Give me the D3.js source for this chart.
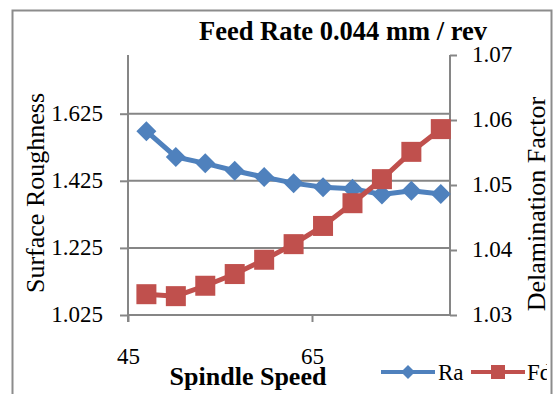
<!DOCTYPE html>
<html>
<head>
<meta charset="utf-8">
<script src="https://cdn.jsdelivr.net/npm/d3@7"></script>
<style>
  body { margin: 0; background: #fff; }
  svg { font-family: "Liberation Serif", "Times New Roman", serif; }
</style>
</head>
<body>
<div id="chart"></div>
<script>
// spindle speed values (x) and the two series
var speed = [47, 50.2, 53.4, 56.6, 59.8, 63, 66.2, 69.4, 72.6, 75.8, 79];
var ra = [1.573, 1.496, 1.477, 1.455, 1.436, 1.418, 1.406, 1.401, 1.384, 1.395, 1.386];
var fd = [1.0332, 1.0329, 1.0345, 1.0363, 1.0385, 1.0409, 1.0437, 1.0472, 1.0509, 1.0551, 1.0586];
var xTicks = [45, 65];
var leftTicks = [1.025, 1.225, 1.425, 1.625];
var rightTicks = [1.03, 1.04, 1.05, 1.06, 1.07];

var W = 553, H = 394;
var plot = { left: 128, right: 450, top: 55, bottom: 315 };
var blue = "#4F81BD", red = "#C0504D", grey = "#868686";

var svg = d3.select("#chart").append("svg")
    .attr("width", W)
    .attr("height", H);

// Rahmen des Diagramms
svg.append("rect")
    .attr("x", 12.5).attr("y", 10.5)
    .attr("width", 539).attr("height", 400)
    .attr("fill", "none")
    .attr("stroke", "#8c8c8c")
    .attr("stroke-width", 2);

var x = d3.scaleLinear().domain([45, 80]).range([plot.left, plot.right]);
var yL = d3.scaleLinear().domain([1.025, 1.8]).range([plot.bottom, plot.top]);
var yR = d3.scaleLinear().domain([1.03, 1.07]).range([plot.bottom, plot.top]);

// gridlines
svg.append("g").selectAll("line")
    .data(leftTicks.slice(1))
    .enter().append("line")
    .attr("x1", plot.left).attr("x2", plot.right)
    .attr("y1", function(d) { return yL(d); })
    .attr("y2", function(d) { return yL(d); })
    .attr("stroke", grey).attr("stroke-width", 2);

// left axis
var gL = svg.append("g")
    .attr("transform", "translate(" + plot.left + ",0)")
    .call(d3.axisLeft(yL).tickValues(leftTicks).tickSize(8).tickPadding(17)
        .tickFormat(d3.format(".3f")));
gL.select(".domain").remove();
gL.selectAll(".tick line").attr("stroke", grey).attr("stroke-width", 2);
gL.selectAll(".tick text").attr("font-size", 23).attr("fill", "#000")
    .attr("font-family", "Liberation Serif").attr("dy", "0.3em");
svg.append("line")
    .attr("x1", plot.left).attr("x2", plot.left)
    .attr("y1", plot.top).attr("y2", plot.bottom + 7)
    .attr("stroke", grey).attr("stroke-width", 2);

// right axis
var gR = svg.append("g")
    .attr("transform", "translate(" + plot.right + ",0)")
    .call(d3.axisRight(yR).tickValues(rightTicks).tickSize(7).tickPadding(15)
        .tickFormat(d3.format(".2f")));
gR.select(".domain").remove();
gR.selectAll(".tick line").attr("stroke", grey).attr("stroke-width", 2);
gR.selectAll(".tick text").attr("font-size", 23).attr("fill", "#000")
    .attr("font-family", "Liberation Serif").attr("dy", "0.3em");
svg.append("line")
    .attr("x1", plot.right).attr("x2", plot.right)
    .attr("y1", plot.top).attr("y2", plot.bottom)
    .attr("stroke", grey).attr("stroke-width", 2);

// x axis
var gX = svg.append("g")
    .attr("transform", "translate(0," + plot.bottom + ")")
    .call(d3.axisBottom(x).tickValues(xTicks).tickSize(7).tickPadding(26)
        .tickFormat(d3.format("d")));
gX.select(".domain").remove();
gX.selectAll(".tick line").attr("stroke", grey).attr("stroke-width", 2);
gX.selectAll(".tick text").attr("font-size", 23).attr("fill", "#000")
    .attr("font-family", "Liberation Serif");
svg.append("line")
    .attr("x1", plot.left).attr("x2", plot.right)
    .attr("y1", plot.bottom).attr("y2", plot.bottom)
    .attr("stroke", grey).attr("stroke-width", 2);

// series lines
var lineRa = d3.line()
    .x(function(d, i) { return x(speed[i]); })
    .y(function(d) { return yL(d); });
var lineFd = d3.line()
    .x(function(d, i) { return x(speed[i]); })
    .y(function(d) { return yR(d); });

svg.append("path").datum(ra)
    .attr("d", lineRa)
    .attr("fill", "none").attr("stroke", blue).attr("stroke-width", 5);
svg.selectAll(".ra")
    .data(ra)
    .enter().append("path")
    .attr("class", "ra")
    .attr("d", "M0,-10L10,0L0,10L-10,0Z")
    .attr("transform", function(d, i) { return "translate(" + x(speed[i]) + "," + yL(d) + ")"; })
    .attr("fill", blue);

svg.append("path").datum(fd)
    .attr("d", lineFd)
    .attr("fill", "none").attr("stroke", red).attr("stroke-width", 5);
svg.selectAll(".fd")
    .data(fd)
    .enter().append("rect")
    .attr("class", "fd")
    .attr("x", function(d, i) { return x(speed[i]) - 10; })
    .attr("y", function(d) { return yR(d) - 10; })
    .attr("width", 20).attr("height", 20)
    .attr("fill", red);

// titles
svg.append("text")
    .attr("x", 343).attr("y", 40)
    .attr("text-anchor", "middle")
    .attr("font-size", 26.5).attr("font-weight", "bold")
    .text("Feed Rate 0.044 mm / rev");

svg.append("text")
    .attr("x", 248).attr("y", 385)
    .attr("text-anchor", "middle")
    .attr("font-size", 26).attr("font-weight", "bold")
    .text("Spindle Speed");

svg.append("text")
    .attr("transform", "translate(44,193) rotate(-90)")
    .attr("text-anchor", "middle")
    .attr("font-size", 26)
    .text("Surface Roughness");

svg.append("text")
    .attr("transform", "translate(545,204) rotate(-90)")
    .attr("text-anchor", "middle")
    .attr("font-size", 26)
    .text("Delamination Factor");

// legend, clipped at the chart border
svg.append("clipPath").attr("id", "legclip")
    .append("rect").attr("x", 0).attr("y", 0).attr("width", 547).attr("height", H);
var leg = svg.append("g").attr("clip-path", "url(#legclip)");
leg.append("line")
    .attr("x1", 381).attr("x2", 435).attr("y1", 372).attr("y2", 372)
    .attr("stroke", blue).attr("stroke-width", 4);
leg.append("path")
    .attr("d", "M0,-7L7,0L0,7L-7,0Z")
    .attr("transform", "translate(408,372)")
    .attr("fill", blue);
leg.append("text")
    .attr("x", 438).attr("y", 380)
    .attr("font-size", 23)
    .text("Ra");
leg.append("line")
    .attr("x1", 471).attr("x2", 525).attr("y1", 372).attr("y2", 372)
    .attr("stroke", red).attr("stroke-width", 4);
leg.append("rect")
    .attr("x", 491).attr("y", 365).attr("width", 14).attr("height", 14)
    .attr("fill", red);
leg.append("text")
    .attr("x", 527).attr("y", 380)
    .attr("font-size", 23)
    .text("Fd");
</script>
</body>
</html>
